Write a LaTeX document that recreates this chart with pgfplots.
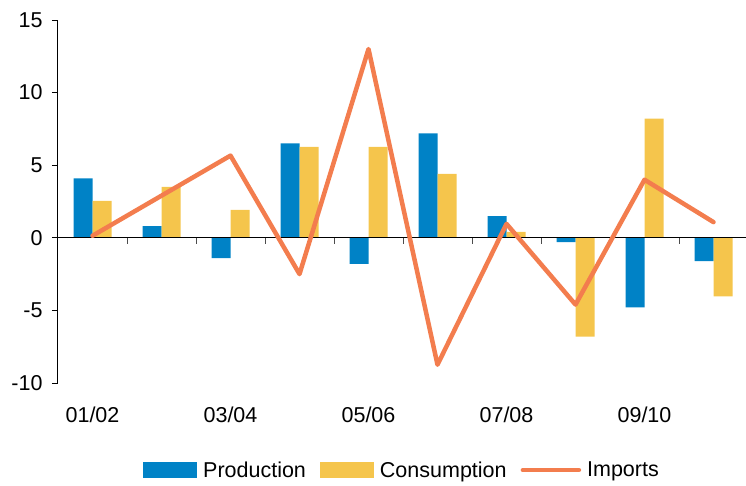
\documentclass[border=0pt]{standalone}
\usepackage{pgfplots}
\pgfplotsset{compat=1.18}
\usepackage{fontspec}
\setmainfont{Liberation Sans}
\definecolor{prodblue}{RGB}{0,130,198}
\definecolor{consyellow}{RGB}{245,197,76}
\definecolor{imporange}{RGB}{243,125,78}
\newcommand{\cf}{\fontsize{21.5}{25}\selectfont}
\begin{document}
\begin{tikzpicture}
\begin{axis}[
  scale only axis,
  width=688pt, height=363pt,
  xmin=-0.5, xmax=9.471,
  ymin=-10, ymax=15,
  axis y line*=left,
  axis x line*=bottom,
  x axis line style={draw=none},
  y axis line style={black, line width=1pt},
  xtick={0,2,4,6,8},
  xticklabels={01/02,03/04,05/06,07/08,09/10},
  xtick style={draw=none},
  ytick={-10,-5,0,5,10,15},
  ytick style={black, line width=0.8pt},
  ytick align=outside,
  major tick length=6pt,
  /pgf/number format/assume math mode=true,
  tick label style={font=\cf},
  xticklabel style={yshift=-20pt},
  yticklabel style={xshift=-6pt},
  clip=false,
  legend style={at={(0.5,-0.24)}, anchor=center, draw=none, fill=none, font=\cf,
    legend columns=-1,
    /tikz/every odd column/.append style={column sep=4pt},
    /tikz/every even column/.append style={column sep=12pt}},
]
\coordinate (bl) at (rel axis cs:0,0);
\coordinate (tr) at (rel axis cs:1,1);
\addplot[ybar, bar width=19pt, bar shift=-9.5pt, fill=prodblue, draw=none,
  legend image code/.code={\fill[prodblue] (0pt,-8pt) rectangle (54pt,8pt);}]
  coordinates {(0,4.1) (1,0.8) (2,-1.4) (3,6.5) (4,-1.8) (5,7.2) (6,1.5) (7,-0.3) (8,-4.8) (9,-1.6)};
\addlegendentry{Production}
\addplot[ybar, bar width=19pt, bar shift=9.5pt, fill=consyellow, draw=none,
  legend image code/.code={\fill[consyellow] (0pt,-8pt) rectangle (54pt,8pt);}]
  coordinates {(0,2.55) (1,3.5) (2,1.93) (3,6.26) (4,6.26) (5,4.4) (6,0.41) (7,-6.8) (8,8.2) (9,-4.04)};
\addlegendentry{Consumption}
\draw[black, line width=1pt] (axis cs:-0.5,0) -- (axis cs:9.471,0);
\pgfplotsinvokeforeach{0.5,1.5,2.5,3.5,4.5,5.5,6.5,7.5,8.5}{
  \draw[black!70, line width=0.8pt] (axis cs:#1,0) -- ++(0pt,-6pt);
}
\addplot[sharp plot, no marks, imporange, line width=4.5pt, line join=round, line cap=round,
  legend image code/.code={\draw[imporange, line width=4.5pt] (0pt,0pt) -- (56pt,0pt);}]
  coordinates {(0,0.14) (1,2.9) (2,5.66) (3,-2.5) (4,13.0) (5,-8.74) (6,0.96) (7,-4.6) (8,4.0) (9,1.08)};
\addlegendentry{Imports}
\end{axis}
\pgfresetboundingbox
\path ([xshift=-58pt,yshift=-103pt]bl) rectangle ([yshift=20pt]tr);
\end{tikzpicture}
\end{document}
